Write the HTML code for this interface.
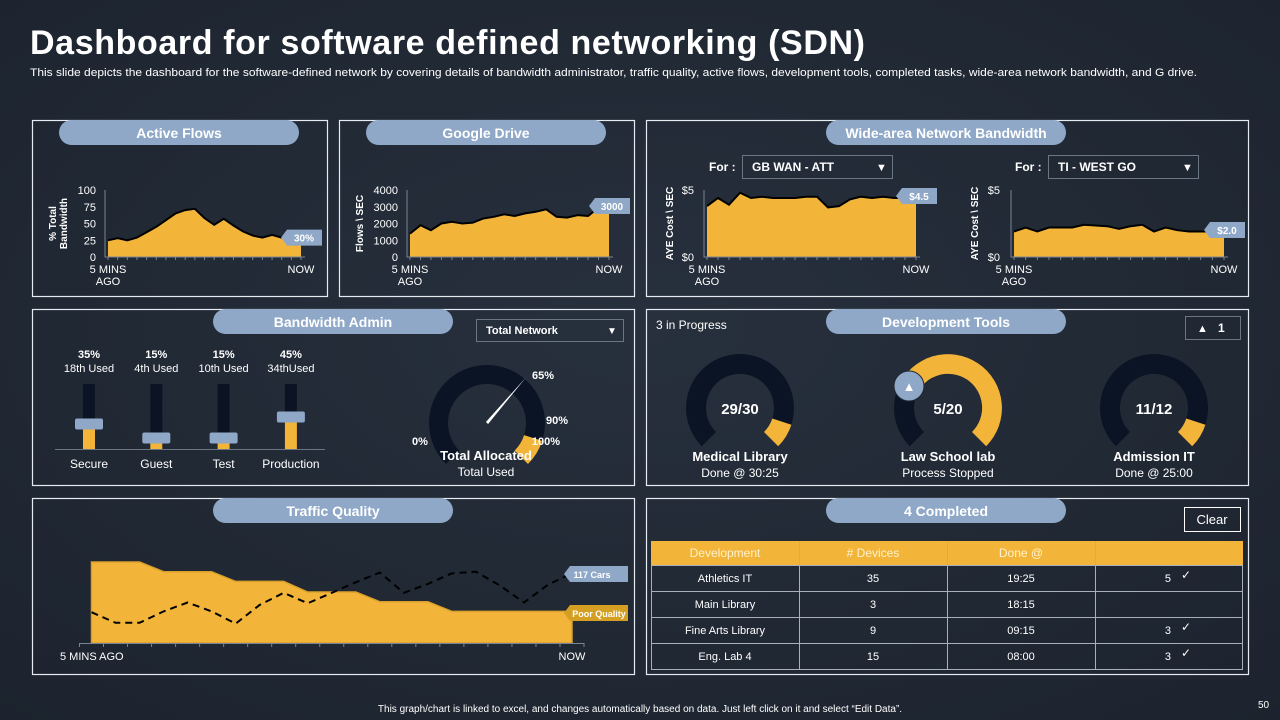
<!DOCTYPE html>
<html><head><meta charset="utf-8">
<style>
html,body{margin:0;padding:0;background:#1f2733;}
svg{display:block;font-family:"Liberation Sans",Arial,sans-serif;}
</style></head>
<body>
<svg id="s" width="1280" height="720" viewBox="0 0 1280 720" xmlns="http://www.w3.org/2000/svg">
<defs>
<radialGradient id="bg" cx="50%" cy="45%" r="75%"><stop offset="0" stop-color="#27303d"/><stop offset="1" stop-color="#1c232e"/></radialGradient>
</defs>
<rect width="1280" height="720" fill="url(#bg)"/>
<text x="30" y="54" font-size="34" font-weight="bold" fill="#fff" textLength="835" lengthAdjust="spacing">Dashboard for software defined networking (SDN)</text>
<text x="30" y="76" font-size="11" fill="#fff" textLength="1167" lengthAdjust="spacingAndGlyphs">This slide depicts the dashboard for the software-defined network by covering details of bandwidth administrator, traffic quality, active flows, development tools, completed tasks, wide-area network bandwidth, and G drive.</text>

<g fill="none" stroke="#e6ebf2" stroke-width="1.2">
<rect x="32.5" y="120.5" width="295" height="176"/>
<rect x="339.5" y="120.5" width="295" height="176"/>
<rect x="646.5" y="120.5" width="602" height="176"/>
<rect x="32.5" y="309.5" width="602" height="176"/>
<rect x="646.5" y="309.5" width="602" height="176"/>
<rect x="32.5" y="498.5" width="602" height="176"/>
<rect x="646.5" y="498.5" width="602" height="176"/>
</g>

<g font-size="14" font-weight="bold" fill="#fff" text-anchor="middle">
<rect x="59" y="120" width="240" height="25" rx="12.5" fill="#8fa8c8"/>
<text x="179" y="138">Active Flows</text>
<rect x="366" y="120" width="240" height="25" rx="12.5" fill="#8fa8c8"/>
<text x="486" y="138">Google Drive</text>
<rect x="826" y="120" width="240" height="25" rx="12.5" fill="#8fa8c8"/>
<text x="946" y="138">Wide-area Network Bandwidth</text>
<rect x="213" y="309" width="240" height="25" rx="12.5" fill="#8fa8c8"/>
<text x="333" y="327">Bandwidth Admin</text>
<rect x="826" y="309" width="240" height="25" rx="12.5" fill="#8fa8c8"/>
<text x="946" y="327">Development Tools</text>
<rect x="213" y="498" width="240" height="25" rx="12.5" fill="#8fa8c8"/>
<text x="333" y="516">Traffic Quality</text>
<rect x="826" y="498" width="240" height="25" rx="12.5" fill="#8fa8c8"/>
<text x="946" y="516">4 Completed</text>
</g>

<!-- WAN dropdowns -->
<g font-size="12" font-weight="bold" fill="#fff">
<text x="709" y="171">For :</text>
<rect x="742.5" y="155.5" width="150" height="23" fill="none" stroke="#6a7585"/>
<text x="752" y="171">GB WAN - ATT</text>
<text x="876" y="171" font-size="11">▼</text>
<text x="1015" y="171">For :</text>
<rect x="1048.5" y="155.5" width="150" height="23" fill="none" stroke="#6a7585"/>
<text x="1058" y="171">TI - WEST GO</text>
<text x="1182" y="171" font-size="11">▼</text>
</g>

<!-- Bandwidth admin static -->
<rect x="476.5" y="319.5" width="147" height="22" fill="none" stroke="#6a7585"/>
<text x="486" y="334" font-size="11" font-weight="bold" fill="#fff">Total Network</text>
<text x="607" y="334" font-size="10" fill="#fff">▼</text>
<line x1="55" y1="449.5" x2="325" y2="449.5" stroke="#6a7585"/>

<!-- Dev tools static -->
<text x="656" y="329" font-size="12" fill="#fff">3 in Progress</text>
<rect x="1185.5" y="316.5" width="55" height="23" fill="none" stroke="#6a7585"/>
<text x="1197" y="332" font-size="11" fill="#fff">▲</text>
<text x="1218" y="332" font-size="12" font-weight="bold" fill="#fff">1</text>

<!-- Completed static -->
<rect x="1184.5" y="507.5" width="56" height="24" fill="none" stroke="#fff"/>
<text x="1212" y="524" font-size="13" fill="#fff" text-anchor="middle">Clear</text>

<g id="charts"></g>

<text x="640" y="712" font-size="10" fill="#fff" text-anchor="middle">This graph/chart is linked to excel, and changes automatically based on data. Just left click on it and select “Edit Data”.</text>
<text x="1258" y="708" font-size="10" fill="#fff">50</text>
</svg>

<script>
// ---- data ----
const activeFlowsValues = [25,28,25,29,37,45,55,65,70,72,58,48,57,47,38,32,29,33,29,29,29];
const activeFlowsTicks = [0,25,50,75,100];
const googleDriveValues = [1400,1900,1600,2000,2100,2000,2050,2300,2400,2550,2450,2600,2700,2850,2400,2350,2500,2450,2950,3000];
const googleDriveTicks = [0,1000,2000,3000,4000];
const wanLeftValues = [3.8,4.4,3.9,4.8,4.4,4.5,4.4,4.4,4.4,4.5,4.5,3.7,3.8,4.3,4.5,4.4,4.5,4.4,4.4,4.5];
const wanRightValues = [1.9,2.2,1.9,2.2,2.2,2.2,2.4,2.35,2.3,2.1,2.3,2.4,1.9,2.2,2.0,1.9,1.9,1.9,2.0];
const wanTicks = ["$0","$5"];
const sliderNames = ["Secure","Guest","Test","Production"];
const sliderPercents = [35,15,15,45];
const sliderUsed = ["18th Used","4th Used","10th Used","34thUsed"];
const gaugeNeedle = 65;
const gaugeYellowStart = 90;
const gaugeYellowEnd = 100;
const devNames = ["Medical Library","Law School lab","Admission  IT"];
const devDone = [29,5,11];
const devTotal = [30,20,12];
const devSub = ["Done @ 30:25","Process Stopped","Done @ 25:00"];
const trafficQuality = [100,100,100,88,88,88,76,76,76,63,63,63,51,51,51,39,39,39,39,39,39];
const trafficCars = [38,25,25,39,50,39,24,47,62,49,62,75,87,62,73,86,88,71,50,72,86];
const tableHeaders = ["Development","# Devices","Done @",""];
const tableNames = ["Athletics IT","Main Library","Fine Arts Library","Eng. Lab 4"];
const tableDevices = ["35","3","9","15"];
const tableDone = ["19:25","18:15","09:15","08:00"];
const tableCheck = ["5","","3","3"];

const NS = "http://www.w3.org/2000/svg";
const root = document.getElementById('charts');
function mk(tag, attrs, parent){
  const e = document.createElementNS(NS, tag);
  for (const k in attrs) e.setAttribute(k, attrs[k]);
  (parent||root).appendChild(e);
  return e;
}
function txt(x,y,s,size,opts){
  const o = Object.assign({x:x,y:y,'font-size':size,fill:'#fff'}, opts||{});
  const e = mk('text', o);
  e.textContent = s;
  return e;
}
const YEL = "#f2b53a", BLUE="#8fa8c8", DARK="#0b1424";

function areaChart(prefix, vals, max, x0, x1, yT, yB, tickVals, tickLabels, labelX, titleLines, titleX, tagText, tagY){
  const n = vals.length;
  const sx = i => x0 + i*(x1-x0)/(n-1);
  const sy = v => yB - v/max*(yB-yT);
  let d = "M"+x0+","+yB;
  let l = "";
  vals.forEach((v,i)=>{ d += " L"+sx(i).toFixed(1)+","+sy(v).toFixed(1); l += (i?" L":"M")+sx(i).toFixed(1)+","+sy(v).toFixed(1); });
  d += " L"+x1+","+yB+" Z";
  const a = mk('path',{d:d,fill:YEL});
  
  
  const ln = mk('path',{d:l,fill:'none',stroke:'#000','stroke-width':2});
  
  
  const ax = mk('path',{d:"M"+(x0-3)+","+yT+" V"+yB+" H"+(x1+4),fill:'none',stroke:'#7a8494'});
  
  
  for(let i=0;i<n;i++){
    const t = mk('line',{x1:sx(i),x2:sx(i),y1:yB,y2:yB+3,stroke:'#7a8494'});
    
    
  }
  tickVals.forEach((tv,i)=>{
    const t = txt(labelX, sy(tv)+4, tickLabels[i], 11, {'text-anchor':'end'});
    
    
  });
  const xl1 = txt(x0, yB+16, "5 MINS", 11, {'text-anchor':'middle'});
  
  
  const xl2 = txt(x0, yB+28, "AGO", 11, {'text-anchor':'middle'});
  
  
  const xl3 = txt(x1, yB+16, "NOW", 11, {'text-anchor':'middle'});
  
  
  const cy = (yT+yB)/2;
  titleLines.forEach((s,i)=>{
    const tx = titleX + i*11;
    const t = txt(tx, cy, s, 10, {'font-weight':'bold','text-anchor':'middle',transform:'rotate(-90 '+tx+' '+cy+')'});
    
    
  });
  const ty = tagY!==undefined ? tagY : sy(vals[n-1]);
  const tx0 = x1-20, tx1 = x1+21;
  const tg = mk('polygon',{points:(tx0)+","+ty+" "+(tx0+6)+","+(ty-8)+" "+tx1+","+(ty-8)+" "+tx1+","+(ty+8)+" "+(tx0+6)+","+(ty+8),fill:BLUE});
  
  
  const tt = txt(tx0+23, ty+4, tagText, 10, {'font-weight':'bold','text-anchor':'middle'});
  
  
}

areaChart('active-flows', activeFlowsValues, 100, 108, 301, 190, 257, activeFlowsTicks, activeFlowsTicks.map(String), 96, ["% Total","Bandwidth"], 56, "30%");
areaChart('google-drive', googleDriveValues, 4000, 410, 609, 190, 257, googleDriveTicks, googleDriveTicks.map(String), 398, ["Flows \\ SEC"], 363, "3000", 206);
areaChart('wan-left', wanLeftValues, 5, 707, 916, 190, 257, [0,5], wanTicks, 694, ["AYE Cost \\ SEC"], 673, "$4.5", 196);
areaChart('wan-right', wanRightValues, 5, 1014, 1224, 190, 257, [0,5], wanTicks, 1000, ["AYE Cost \\ SEC"], 978, "$2.0", 230);

// sliders
const sliderX = i => 89 + i*67.3;
const sliderH = p => p*0.7;
sliderNames.forEach((nm,i)=>{
  const cx = sliderX(i);
  const tr = mk('rect',{x:cx-6,y:384,width:12,height:65,fill:DARK});
  
  
  const h = sliderH(sliderPercents[i]);
  const f = mk('rect',{x:cx-6,y:449-h,width:12,height:h,fill:YEL});
  
  
  const hd = mk('rect',{x:cx-14,y:449-h-6,width:28,height:11,rx:2,fill:BLUE});
  
  
  const p = txt(cx, 358, sliderPercents[i]+"%", 11, {'font-weight':'bold','text-anchor':'middle'});
  
  
  const u = txt(cx, 372, sliderUsed[i], 11, {'text-anchor':'middle'});
  
  
  const n = txt(cx, 468, nm, 12, {'text-anchor':'middle'});
  
  
});

// arc helper: fraction 0..1 over 270deg sweep
function arcPath(cx,cy,ro,ri,f0,f1){
  const ang = f => (-135 + 270*f) * Math.PI/180;
  const P = (r,f) => [cx + r*Math.sin(ang(f)), cy - r*Math.cos(ang(f))];
  const large = (f1-f0)*270 > 180 ? 1 : 0;
  const a=P(ro,f0), b=P(ro,f1), c=P(ri,f1), d=P(ri,f0);
  return "M"+a[0].toFixed(1)+","+a[1].toFixed(1)+" A"+ro+","+ro+" 0 "+large+" 1 "+b[0].toFixed(1)+","+b[1].toFixed(1)+
    " L"+c[0].toFixed(1)+","+c[1].toFixed(1)+" A"+ri+","+ri+" 0 "+large+" 0 "+d[0].toFixed(1)+","+d[1].toFixed(1)+" Z";
}

// bandwidth gauge
const gcx=487, gcy=423;
const gb = mk('path',{d:arcPath(gcx,gcy,58,39,0,1),fill:DARK});


const gy = mk('path',{d:arcPath(gcx,gcy,58,39,gaugeYellowStart/100,gaugeYellowEnd/100),fill:YEL});


{
  const a = (-135 + 270*gaugeNeedle/100)*Math.PI/180;
  const nd = mk('polygon',{points:(gcx+60*Math.sin(a)).toFixed(1)+","+(gcy-60*Math.cos(a)).toFixed(1)+" "+(gcx+1.5*Math.cos(a)).toFixed(1)+","+(gcy+1.5*Math.sin(a)).toFixed(1)+" "+(gcx-1.5*Math.cos(a)).toFixed(1)+","+(gcy-1.5*Math.sin(a)).toFixed(1),fill:'#fff'});
  
  
}
[["65%",543,379],["90%",557,424],["100%",546,445],["0%",420,445]].forEach(t=>{
  const e = txt(t[1],t[2],t[0],11,{'font-weight':'bold','text-anchor':'middle'});
  
  
});
{
  const e1 = txt(486,460,"Total Allocated",13,{'font-weight':'bold','text-anchor':'middle'});
  
  
  const e2 = txt(486,476,"Total Used",12,{'text-anchor':'middle'});
  
  
}

// dev tool gauges
const devX = i => [740,948,1154][i];
devNames.forEach((nm,i)=>{
  const cx = devX(i), cy = 408;
  const bg = mk('path',{d:arcPath(cx,cy,54,34,0,1),fill:DARK});
  
  
  const f = devDone[i]/devTotal[i];
  const yl = mk('path',{d:arcPath(cx,cy,54,34,Math.min(f,0.9),1),fill:YEL});
  
  
  const v = txt(cx, cy+6, devDone[i]+"/"+devTotal[i], 15, {'font-weight':'bold','text-anchor':'middle'});
  
  
  const n = txt(cx, 461, nm, 13, {'font-weight':'bold','text-anchor':'middle'});
  
  
  const s = txt(cx, 477, devSub[i], 12, {'text-anchor':'middle'});
  
  
});
{
  const w = mk('circle',{cx:909,cy:386,r:15,fill:BLUE,stroke:'#1f2733','stroke-width':1});
  
  
  const wt = txt(909,391,"▲",13,{'text-anchor':'middle'});
  
  
}

// traffic quality
{
  const n = trafficQuality.length;
  const x0=91.5, x1=572, yB=643, yT=562;
  const sx = i => x0 + i*(x1-x0)/(n-1);
  const sy = v => yB - v*(yB-yT)/100;
  let d = "M"+x0+","+yB;
  trafficQuality.forEach((v,i)=>{ d += " L"+sx(i).toFixed(1)+","+sy(v).toFixed(1); });
  d += " L"+x1+","+yB+" Z";
  const a = mk('path',{d:d,fill:YEL,stroke:'#d9a02c','stroke-width':1.5});
  
  
  let l = "";
  trafficCars.forEach((v,i)=>{ l += (i?" L":"M")+sx(i).toFixed(1)+","+sy(v).toFixed(1); });
  const ln = mk('path',{d:l,fill:'none',stroke:'#000','stroke-width':2,'stroke-dasharray':'7,5'});
  
  
  const ax = mk('line',{x1:x0-12,x2:x1+12,y1:yB+0.5,y2:yB+0.5,stroke:'#7a8494'});
  
  
  for(let i=-0.5;i<n;i++){
    const t = mk('line',{x1:sx(i),x2:sx(i),y1:yB,y2:yB+4,stroke:'#7a8494'});
    
    
  }
  const l1 = txt(60,660,"5 MINS AGO",11);
  
  
  const l2 = txt(572,660,"NOW",11,{'text-anchor':'middle'});
  
  
  const tg1 = mk('polygon',{points:"564,574 570,566 628,566 628,582 570,582",fill:BLUE});
  
  
  const tt1 = txt(592,578,"117 Cars",9,{'font-weight':'bold','text-anchor':'middle'});
  
  
  const tg2 = mk('polygon',{points:"564,613 570,605 628,605 628,621 570,621",fill:'#d49f22'});
  
  
  const tt2 = txt(599,617,"Poor Quality",9,{'font-weight':'bold','text-anchor':'middle'});
  
  
}

// table
{
  const cols=[651,799,947,1095,1243];
  const hdr = mk('rect',{x:651,y:541,width:592,height:24,fill:YEL});
  
  
  tableHeaders.forEach((h,i)=>{
    const t = txt((cols[i]+cols[i+1])/2, 557, h, 12, {'text-anchor':'middle',fill:'#fff2cc'});
    
    
  });
  tableNames.forEach((nm,r)=>{
    const y = 565 + r*26;
    const row = mk('rect',{x:651.5,y:y+0.5,width:591,height:26,fill:'none',stroke:'#a9b0bb'});
    
    
    const vals=[nm,tableDevices[r],tableDone[r]];
    vals.forEach((v,c)=>{
      const t = txt((cols[c]+cols[c+1])/2, y+17, v, 11, {'text-anchor':'middle'});
      
      
    });
    if(tableCheck[r]){
      const t = txt(1171, y+17, tableCheck[r], 11, {'text-anchor':'end'});
      
      
      const c = txt(1181, y+14, "✓", 12);
      
      
    }
  });
  [799,947,1095].forEach(x=>{
    const v = mk('line',{x1:x+0.5,x2:x+0.5,y1:541,y2:669,stroke:'#a9b0bb'});
    
    
  });
}
</script>
</body></html>
